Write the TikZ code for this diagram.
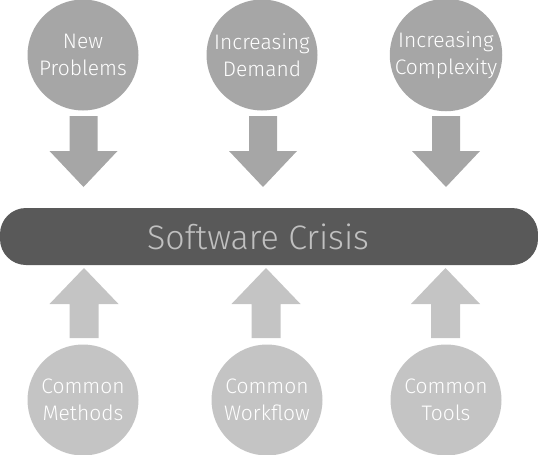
\documentclass[tikz,border=0pt]{standalone}
\usepackage{fontspec}
\setmainfont{Fira Sans Light}
\begin{document}
\begin{tikzpicture}[x=1pt,y=-1pt,
  topc/.style={circle,fill=topgray,minimum size=111pt,inner sep=0pt,text=white,align=center,font=\fontsize{21}{26.5}\selectfont},
  botc/.style={circle,fill=botgray,minimum size=111pt,inner sep=0pt,text=white,align=center,font=\fontsize{21}{26.5}\selectfont},
  bar/.style={rounded corners=26pt,fill=bargray,minimum width=538pt,minimum height=57pt,inner sep=0pt},
]
\definecolor{topgray}{HTML}{A6A6A6}
\definecolor{botgray}{HTML}{C4C4C4}
\definecolor{bargray}{HTML}{595959}
\definecolor{bartext}{HTML}{C0C0C0}
\useasboundingbox (0,0) rectangle (538,455);
% bar
\node[bar] (crisis) at (269,236.5) {};
\node[text=bartext,font=\fontsize{34}{40}\selectfont] (crisistext) at (258,237) {Software Crisis};
% top circles
\node[topc] (np) at (83,55) {New\\Problems};
\node[topc] (id) at (262,55) {Increasing\\Demand};
\node[topc] (ic) at (446,55) {Increasing\\Complexity};
% bottom circles
\node[botc] (cm) at (83,400) {Common\\Methods};
\node[botc] (cw) at (267,400) {Common\\Workflow};
\node[botc] (ct) at (446,400) {Common\\Tools};
% down arrows
\foreach \c in {83.5,263,446}{
  \fill[topgray] (\c-14,116) -- (\c+14,116) -- (\c+14,151) -- (\c+34,151) -- (\c,187) -- (\c-34,151) -- (\c-14,151) -- cycle;
}
% up arrows
\foreach \c in {84,266,445.5}{
  \fill[botgray] (\c-14.5,338) -- (\c+14.5,338) -- (\c+14.5,304) -- (\c+34.5,304) -- (\c,268) -- (\c-34.5,304) -- (\c-14.5,304) -- cycle;
}
\end{tikzpicture}
\end{document}
